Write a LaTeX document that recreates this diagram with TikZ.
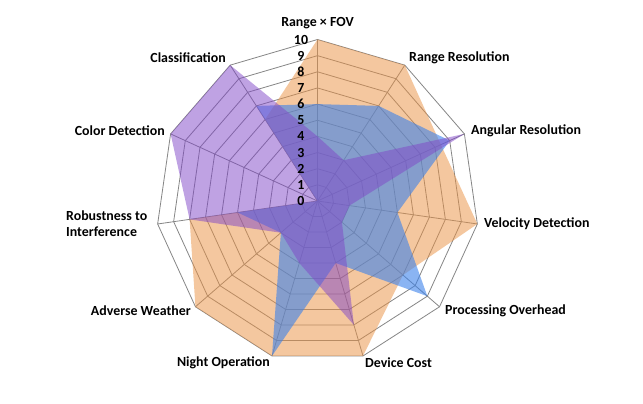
\documentclass[tikz,border=0pt]{standalone}
\usepackage{fontspec}
\setmainfont{Carlito}
\definecolor{gridgray}{RGB}{134,134,134}
\definecolor{radarcol}{RGB}{235,145,65}
\definecolor{lidarcol}{RGB}{60,130,235}
\definecolor{camcol}{RGB}{128,70,200}
\tikzset{
  gridline/.style={draw=gridgray, line width=0.8pt},
  axislabel/.style={font=\bfseries\fontsize{13.9}{16}\selectfont, inner sep=0pt},
  ticklabel/.style={font=\bfseries\fontsize{13.9}{16}\selectfont, inner sep=0pt}
}
\def\u{16.15}
\begin{document}
\begin{tikzpicture}[x=1pt,y=1pt]
\fill[white] (-317.5,-203) rectangle (325.5,201);
\useasboundingbox (-317.5,-203) rectangle (325.5,201);

% grid
\foreach \r in {1,...,10}
  \draw[gridline] (90:\r*\u) \foreach \k in {1,...,10}{ -- ({90-\k*360/11}:{\r*\u}) } -- cycle;
\foreach \k in {0,...,10}
  \draw[gridline] (0,0) -- ({90-\k*360/11}:{10*\u});

% three series
\fill[radarcol, fill opacity=0.5] (90:10*\u) \foreach \v [count=\k] in {10,8.4,10,7,10,10,10,8,0,6}{ -- ({90-\k*360/11}:{\v*\u}) } -- cycle;
\fill[lidarcol, fill opacity=0.6] (90:6*\u) \foreach \v [count=\k] in {7,9,5,9,4,10,3,5,0,7}{ -- ({90-\k*360/11}:{\v*\u}) } -- cycle;
\fill[camcol, fill opacity=0.5] (90:4*\u) \foreach \v [count=\k] in {3,10,2,2,8,4,3,8,10,10}{ -- ({90-\k*360/11}:{\v*\u}) } -- cycle;

% scale
\foreach \r in {0,...,10}
  \node[ticklabel] (t\r) at (-16.5,\r*\u) {\r};

% axis names
\node[axislabel] (fov) at (0,178) {Range × FOV};
\node[axislabel, anchor=west] (rres) at (91.5,143) {Range Resolution};
\node[axislabel, anchor=west] (ares) at (153.5,70) {Angular Resolution};
\node[axislabel, anchor=west] (vel) at (166.5,-23) {Velocity Detection};
\node[axislabel, anchor=west] (proc) at (127.5,-110) {Processing Overhead};
\node[axislabel, anchor=west] (cost) at (47.5,-161.7) {Device Cost};
\node[axislabel, anchor=east] (night) at (-47.5,-161.7) {Night Operation};
\node[axislabel, anchor=east] (weather) at (-126.5,-110) {Adverse Weather};
\node[axislabel, anchor=west, align=left] (robust) at (-251.5,-23) {Robustness to\\Interference};
\node[axislabel, anchor=east] (color) at (-152.5,70) {Color Detection};
\node[axislabel, anchor=east] (class) at (-91.5,143) {Classification};
\end{tikzpicture}
\end{document}
